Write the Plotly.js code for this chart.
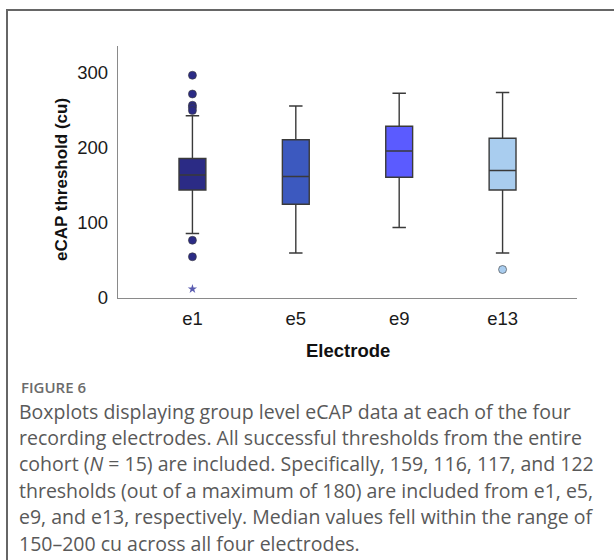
<!DOCTYPE html>
<html>
<head>
<meta charset="utf-8">
<script src="https://cdn.plot.ly/plotly-3.0.1.min.js"></script>
<style>
html,body{margin:0;padding:0;background:#fff;overflow:hidden;}
#chart{width:614px;height:560px;}
</style>
</head>
<body>
<div id="chart"></div>
<script>
// Categories and summary statistics
const electrodes = ["e1", "e5", "e9", "e13"];
const lowerWhisker = [86, 60, 94, 60];
const q1 = [144, 125, 161, 144];
const median = [164, 162, 196, 170];
const q3 = [186, 211, 229, 213];
const upperWhisker = [243, 256, 273, 274];
const colors = ["#2b2b85", "#3c59bf", "#5b5bff", "#a9cdef"];

// Outliers (circles) and extreme outliers (stars)
const outlierElectrode = ["e1", "e1", "e1", "e1", "e1", "e1", "e1", "e13"];
const outlierValue = [297, 272, 257, 254, 250, 77, 55, 38];
const outlierColor = ["#2b2b85", "#2b2b85", "#2b2b85", "#2b2b85", "#2b2b85", "#2b2b85", "#2b2b85", "#a9cdef"];
const extremeElectrode = ["e1"];
const extremeValue = [12];

const yTitle = "eCAP threshold (cu)";
const xTitle = "Electrode";
const captionTitle = "FIGURE 6";
const captionLines = [
  "Boxplots displaying group level eCAP data at each of the four",
  "recording electrodes. All successful thresholds from the entire",
  "cohort (<i>N</i> = 15) are included. Specifically, 159, 116, 117, and 122",
  "thresholds (out of a maximum of 180) are included from e1, e5,",
  "e9, and e13, respectively. Median values fell within the range of",
  "150\u2013200 cu across all four electrodes."
];

const traces = electrodes.map((e, i) => ({
  type: "box",
  name: e,
  x: [e],
  q1: [q1[i]],
  median: [median[i]],
  q3: [q3[i]],
  lowerfence: [lowerWhisker[i]],
  upperfence: [upperWhisker[i]],
  width: 0.26,
  whiskerwidth: 0.5,
  fillcolor: colors[i],
  line: {color: "#3a3a3a", width: 1.4},
  boxpoints: false,
  showlegend: false,
  hoverinfo: "skip"
}));

traces.push({
  type: "scatter",
  mode: "markers",
  x: outlierElectrode,
  y: outlierValue,
  marker: {symbol: "circle", size: 8, color: outlierColor, line: {color: "#3a3a3a", width: 0.6}},
  showlegend: false,
  hoverinfo: "skip"
});
traces.push({
  type: "scatter",
  mode: "markers",
  x: extremeElectrode,
  y: extremeValue,
  marker: {symbol: "star", size: 7, color: "#5a5cb0"},
  showlegend: false,
  hoverinfo: "skip"
});

// plot area: x 118..577, y 46..298 (pixels)
const L = 118, R = 577, T = 46, B = 298;
const PW = R - L, PH = B - T;
function px(x) { return (x - L) / PW; }
function py(y) { return (B - y) / PH; }

const annotations = [];
annotations.push({
  xref: "paper", yref: "paper", x: px(61), y: py(180),
  xanchor: "center", yanchor: "middle", showarrow: false, textangle: -90,
  text: "<b>" + yTitle + "</b>",
  font: {family: "Liberation Sans, Arial, sans-serif", size: 17, color: "#111"}
});
annotations.push({
  xref: "paper", yref: "paper", x: px(348), y: py(350),
  xanchor: "center", yanchor: "middle", showarrow: false,
  text: "<b>" + xTitle + "</b>",
  font: {family: "Liberation Sans, Arial, sans-serif", size: 18.5, color: "#111"}
});
annotations.push({
  xref: "paper", yref: "paper", x: px(19), y: py(387),
  xanchor: "left", yanchor: "middle", showarrow: false,
  text: captionTitle,
  font: {family: "Open Sans, Lato, sans-serif", size: 15, weight: 600, color: "#6b6b6b"}
});
captionLines.forEach((t, i) => {
  annotations.push({
    xref: "paper", yref: "paper", x: px(18), y: py(411 + i * 26.4),
    xanchor: "left", yanchor: "middle", showarrow: false,
    borderpad: 0,
    text: t,
    font: {family: "Open Sans, Lato, sans-serif", size: 19.5, color: "#595959"}
  });
});

const layout = {
  width: 614, height: 560,
  margin: {l: L, r: 614 - R, t: T, b: 560 - B},
  paper_bgcolor: "#ffffff",
  plot_bgcolor: "#ffffff",
  showlegend: false,
  xaxis: {
    type: "category",
    categoryorder: "array",
    categoryarray: electrodes,
    range: [-0.72, 3.72],
    showline: true, linecolor: "#8a8a8a", linewidth: 1.2,
    showgrid: false, zeroline: false, ticks: "",
    ticklabelstandoff: 4,
    tickfont: {family: "Liberation Sans, Arial, sans-serif", size: 18.5, color: "#1a1a1a"}
  },
  yaxis: {
    range: [0, 336],
    tickvals: [0, 100, 200, 300],
    showline: true, linecolor: "#8a8a8a", linewidth: 1.2,
    showgrid: false, zeroline: false, ticks: "",
    ticklabelstandoff: 5,
    tickfont: {family: "Liberation Sans, Arial, sans-serif", size: 18.5, color: "#1a1a1a"}
  },
  shapes: [{
    type: "rect", xref: "paper", yref: "paper", layer: "below",
    x0: px(7), x1: px(640), y0: py(600), y1: py(10),
    line: {color: "#666666", width: 2}, fillcolor: "rgba(0,0,0,0)"
  }],
  annotations: annotations
};

Plotly.newPlot("chart", traces, layout, {displayModeBar: false, staticPlot: true});
</script>
</body>
</html>
